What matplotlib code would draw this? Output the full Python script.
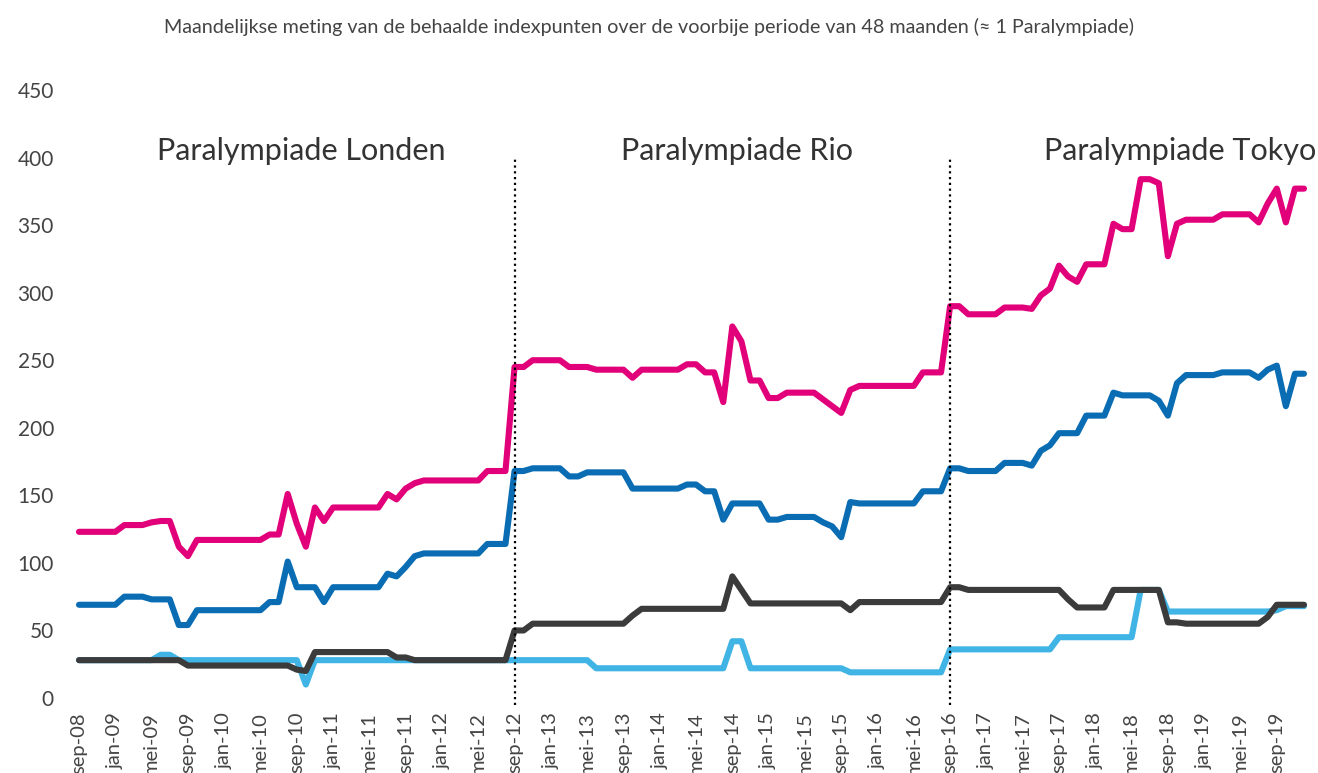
import numpy as np
from matplotlib import pyplot as plt

plt.rcParams['font.family'] = ['Lato', 'DejaVu Sans']

# maandreeks sep-08 .. dec-19 (136 maanden)
roze = [123, 123, 123, 123, 123, 128, 128, 128, 130, 131, 131, 112,
        105, 117, 117, 117, 117, 117, 117, 117, 117, 121, 121, 151,
        129, 112, 141, 131, 141, 141, 141, 141, 141, 141, 151, 147,
        155, 159, 161, 161, 161, 161, 161, 161, 161, 168, 168, 168,
        245, 245, 250, 250, 250, 250, 245, 245, 245, 243, 243, 243,
        243, 237, 243, 243, 243, 243, 243, 247, 247, 241, 241, 219,
        275, 264, 235, 235, 222, 222, 226, 226, 226, 226, 221, 216,
        211, 228, 231, 231, 231, 231, 231, 231, 231, 241, 241, 241,
        290, 290, 284, 284, 284, 284, 289, 289, 289, 288, 298, 303,
        320, 312, 308, 321, 321, 321, 351, 347, 347, 384, 384, 381,
        327, 351, 354, 354, 354, 354, 358, 358, 358, 358, 352, 366,
        377, 352, 377, 377]

blauw = [69, 69, 69, 69, 69, 75, 75, 75, 73, 73, 73, 54,
         54, 65, 65, 65, 65, 65, 65, 65, 65, 71, 71, 101,
         82, 82, 82, 71, 82, 82, 82, 82, 82, 82, 92, 90,
         97, 105, 107, 107, 107, 107, 107, 107, 107, 114, 114, 114,
         168, 168, 170, 170, 170, 170, 164, 164, 167, 167, 167, 167,
         167, 155, 155, 155, 155, 155, 155, 158, 158, 153, 153, 132,
         144, 144, 144, 144, 132, 132, 134, 134, 134, 134, 130, 127,
         119, 145, 144, 144, 144, 144, 144, 144, 144, 153, 153, 153,
         170, 170, 168, 168, 168, 168, 174, 174, 174, 172, 183, 187,
         196, 196, 196, 209, 209, 209, 226, 224, 224, 224, 224, 220,
         209, 233, 239, 239, 239, 239, 241, 241, 241, 241, 237, 243,
         246, 216, 240, 240]

lichtblauw = [28, 28, 28, 28, 28, 28, 28, 28, 28, 32, 32, 28,
              28, 28, 28, 28, 28, 28, 28, 28, 28, 28, 28, 28,
              28, 10, 28, 28, 28, 28, 28, 28, 28, 28, 28, 28,
              28, 28, 28, 28, 28, 28, 28, 28, 28, 28, 28, 28,
              28, 28, 28, 28, 28, 28, 28, 28, 28, 22, 22, 22,
              22, 22, 22, 22, 22, 22, 22, 22, 22, 22, 22, 22,
              42, 42, 22, 22, 22, 22, 22, 22, 22, 22, 22, 22,
              22, 19, 19, 19, 19, 19, 19, 19, 19, 19, 19, 19,
              36, 36, 36, 36, 36, 36, 36, 36, 36, 36, 36, 36,
              45, 45, 45, 45, 45, 45, 45, 45, 45, 80, 80, 80,
              64, 64, 64, 64, 64, 64, 64, 64, 64, 64, 64, 64,
              65, 68, 68, 68]

zwart = [28, 28, 28, 28, 28, 28, 28, 28, 28, 28, 28, 28,
         24, 24, 24, 24, 24, 24, 24, 24, 24, 24, 24, 24,
         21, 20, 34, 34, 34, 34, 34, 34, 34, 34, 34, 30,
         30, 28, 28, 28, 28, 28, 28, 28, 28, 28, 28, 28,
         50, 50, 55, 55, 55, 55, 55, 55, 55, 55, 55, 55,
         55, 61, 66, 66, 66, 66, 66, 66, 66, 66, 66, 66,
         90, 80, 70, 70, 70, 70, 70, 70, 70, 70, 70, 70,
         70, 65, 71, 71, 71, 71, 71, 71, 71, 71, 71, 71,
         82, 82, 80, 80, 80, 80, 80, 80, 80, 80, 80, 80,
         80, 73, 67, 67, 67, 67, 80, 80, 80, 80, 80, 80,
         56, 56, 55, 55, 55, 55, 55, 55, 55, 55, 55, 60,
         69, 69, 69, 69]

maand_labels = ['sep-08', 'jan-09', 'mei-09', 'sep-09', 'jan-10', 'mei-10',
                'sep-10', 'jan-11', 'mei-11', 'sep-11', 'jan-12', 'mei-12',
                'sep-12', 'jan-13', 'mei-13', 'sep-13', 'jan-14', 'mei-14',
                'sep-14', 'jan-15', 'mei-15', 'sep-15', 'jan-16', 'mei-16',
                'sep-16', 'jan-17', 'mei-17', 'sep-17', 'jan-18', 'mei-18',
                'sep-18', 'jan-19', 'mei-19', 'sep-19']

spelen = ['Paralympiade Londen', 'Paralympiade Rio', 'Paralympiade Tokyo']
spelen_x = [24.5, 72.5, 121.3]
grenzen = [48, 96]

titel = ('Maandelijkse meting van de behaalde indexpunten over de voorbije '
         'periode van 48 maanden (\u2248 1 Paralympiade)')

W, H = 1318, 773
fig = plt.figure(figsize=(W / 100, H / 100), dpi=100, facecolor='w')
ax = fig.add_axes([79 / W, 75 / H, 1225 / W, 608 / H])

x = np.arange(len(roze))
for reeks, kleur in [(roze, '#E2007A'), (blauw, '#0A6DB3'),
                     (lichtblauw, '#3FB4E5'), (zwart, '#3B3B3B')]:
    ax.plot(x, reeks, color=kleur, lw=4.4, solid_joinstyle='round',
            solid_capstyle='round', clip_on=False)

for g in grenzen:
    ax.plot([g, g], [-5, 400], color='black', lw=1.6, ls=(0, (1, 1.6)),
            clip_on=False)

for naam, xp in zip(spelen, spelen_x):
    ax.text(xp, 398, naam, ha='center', va='baseline', fontsize=22,
            color='#333333')

ax.set_xlim(0, 135)
ax.set_ylim(0, 450)
ax.set_yticks(np.arange(0, 451, 50))
ax.set_xticks(np.arange(0, len(roze), 4))
ax.set_xticklabels(maand_labels, rotation=90, ha='center', va='top')
ax.tick_params(axis='both', length=0, labelcolor='#444444')
ax.tick_params(axis='y', pad=18, labelsize=15)
ax.tick_params(axis='x', pad=10, labelsize=14.5)
for s in ax.spines.values():
    s.set_visible(False)

fig.text(649.5 / W, 1 - 27 / H, titel, ha='center', va='center',
         fontsize=14.2, color='#444444')

fig.savefig('out.png', dpi=100, facecolor='w')
